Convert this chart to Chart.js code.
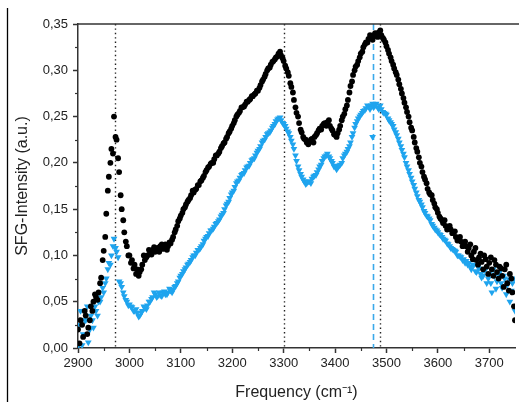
<!DOCTYPE html>
<html>
<head>
<meta charset="utf-8">
<title>SFG spectrum</title>
<script src="https://cdn.jsdelivr.net/npm/chart.js@4.4.0/dist/chart.umd.min.js"></script>
<style>
  html, body { margin: 0; padding: 0; background: #fff; }
  #wrap { width: 519px; height: 402px; }
</style>
</head>
<body>
<div id="wrap"><canvas id="sfgChart" width="519" height="402"></canvas></div>
<script>
// ================= DATA =================
const frequencies = [
  2900, 2905, 2910, 2915, 2920, 2925, 2930, 2935, 2940, 2945,
  2950, 2955, 2960, 2965, 2970, 2975, 2980, 2985, 2990, 2995,
  3000, 3005, 3010, 3015, 3020, 3025, 3030, 3035, 3040, 3045,
  3050, 3055, 3060, 3065, 3070, 3075, 3080, 3085, 3090, 3095,
  3100, 3105, 3110, 3115, 3120, 3125, 3130, 3135, 3140, 3145,
  3150, 3155, 3160, 3165, 3170, 3175, 3180, 3185, 3190, 3195,
  3200, 3205, 3210, 3215, 3220, 3225, 3230, 3235, 3240, 3245,
  3250, 3255, 3260, 3265, 3270, 3275, 3280, 3285, 3290, 3295,
  3300, 3305, 3310, 3315, 3320, 3325, 3330, 3335, 3340, 3345,
  3350, 3355, 3360, 3365, 3370, 3375, 3380, 3385, 3390, 3395,
  3400, 3405, 3410, 3415, 3420, 3425, 3430, 3435, 3440, 3445,
  3450, 3455, 3460, 3465, 3470, 3475, 3480, 3485, 3490, 3495,
  3500, 3505, 3510, 3515, 3520, 3525, 3530, 3535, 3540, 3545,
  3550, 3555, 3560, 3565, 3570, 3575, 3580, 3585, 3590, 3595,
  3600, 3605, 3610, 3615, 3620, 3625, 3630, 3635, 3640, 3645,
  3650, 3655, 3660, 3665, 3670, 3675, 3680, 3685, 3690, 3695,
  3700, 3705, 3710, 3715, 3720, 3725, 3730, 3735, 3740, 3745,
  3750,
];

// second, interleaved sweep
const frequenciesB = [
  2903, 2908, 2913, 2918, 2923, 2928, 2933, 2938, 2943, 2948,
  2953, 2958, 2963, 2968, 2973, 2978, 2983, 2988, 2993, 2998,
  3003, 3008, 3013, 3018, 3023, 3028, 3033, 3038, 3043, 3048,
  3053, 3058, 3063, 3068, 3073, 3078, 3083, 3088, 3093, 3098,
  3103, 3108, 3113, 3118, 3123, 3128, 3133, 3138, 3143, 3148,
  3153, 3158, 3163, 3168, 3173, 3178, 3183, 3188, 3193, 3198,
  3203, 3208, 3213, 3218, 3223, 3228, 3233, 3238, 3243, 3248,
  3253, 3258, 3263, 3268, 3273, 3278, 3283, 3288, 3293, 3298,
  3303, 3308, 3313, 3318, 3323, 3328, 3333, 3338, 3343, 3348,
  3353, 3358, 3363, 3368, 3373, 3378, 3383, 3388, 3393, 3398,
  3403, 3408, 3413, 3418, 3423, 3428, 3433, 3438, 3443, 3448,
  3453, 3458, 3463, 3468, 3473, 3478, 3483, 3488, 3493, 3498,
  3503, 3508, 3513, 3518, 3523, 3528, 3533, 3538, 3543, 3548,
  3553, 3558, 3563, 3568, 3573, 3578, 3583, 3588, 3593, 3598,
  3603, 3608, 3613, 3618, 3623, 3628, 3633, 3638, 3643, 3648,
  3653, 3658, 3663, 3668, 3673, 3678, 3683, 3688, 3693, 3698,
  3703, 3708, 3713, 3718, 3723, 3728, 3733, 3738, 3743, 3748,
];

// black circles
const blackValues = [
  0.020, 0.030, 0.012, 0.035, 0.022, 0.045, 0.050, 0.055, 0.060, 0.076,
  0.105, 0.145, 0.185, 0.215, 0.250, 0.225, 0.190, 0.150, 0.125, 0.110,
  0.100, 0.095, 0.090, 0.085, 0.082, 0.090, 0.095, 0.100, 0.104, 0.106,
  0.104, 0.108, 0.110, 0.107, 0.112, 0.110, 0.113, 0.120, 0.128, 0.137,
  0.143, 0.150, 0.155, 0.160, 0.165, 0.168, 0.172, 0.176, 0.181, 0.186,
  0.192, 0.196, 0.200, 0.204, 0.208, 0.212, 0.218, 0.222, 0.228, 0.234,
  0.240, 0.246, 0.252, 0.256, 0.260, 0.263, 0.266, 0.269, 0.272, 0.275,
  0.278, 0.284, 0.290, 0.296, 0.302, 0.306, 0.310, 0.314, 0.318, 0.316,
  0.310, 0.302, 0.294, 0.282, 0.268, 0.254, 0.243, 0.233, 0.226, 0.222,
  0.223, 0.226, 0.228, 0.232, 0.237, 0.240, 0.243, 0.244, 0.240, 0.235,
  0.230, 0.232, 0.240, 0.250, 0.258, 0.268, 0.283, 0.295, 0.304, 0.310,
  0.318, 0.325, 0.330, 0.334, 0.336, 0.338, 0.337, 0.341, 0.338, 0.333,
  0.326, 0.318, 0.310, 0.302, 0.295, 0.285, 0.275, 0.265, 0.255, 0.244,
  0.235, 0.222, 0.212, 0.200, 0.190, 0.182, 0.172, 0.166, 0.160, 0.152,
  0.146, 0.140, 0.135, 0.132, 0.130, 0.128, 0.125, 0.120, 0.118, 0.115,
  0.112, 0.110, 0.108, 0.100, 0.104, 0.095, 0.098, 0.093, 0.100, 0.088,
  0.092, 0.085, 0.095, 0.082, 0.088, 0.078, 0.085, 0.070, 0.080, 0.060,
  0.030,
];

const blackValuesB = [
  0.005, 0.025, 0.040, 0.015, 0.030, 0.040, 0.058, 0.052, 0.070, 0.095,
  0.120, 0.170, 0.200, 0.210, 0.228, 0.205, 0.165, 0.138, 0.115, 0.100,
  0.092, 0.086, 0.080, 0.078, 0.085, 0.100, 0.098, 0.106, 0.101, 0.109,
  0.106, 0.104, 0.112, 0.109, 0.106, 0.114, 0.117, 0.125, 0.132, 0.140,
  0.146, 0.152, 0.158, 0.162, 0.170, 0.171, 0.176, 0.180, 0.184, 0.190,
  0.195, 0.199, 0.200, 0.208, 0.210, 0.216, 0.221, 0.226, 0.232, 0.237,
  0.243, 0.250, 0.254, 0.260, 0.261, 0.266, 0.268, 0.272, 0.274, 0.278,
  0.281, 0.288, 0.293, 0.300, 0.303, 0.309, 0.312, 0.315, 0.320, 0.313,
  0.305, 0.298, 0.286, 0.276, 0.260, 0.250, 0.236, 0.228, 0.225, 0.220,
  0.225, 0.222, 0.230, 0.235, 0.236, 0.242, 0.240, 0.246, 0.237, 0.231,
  0.228, 0.236, 0.246, 0.253, 0.262, 0.276, 0.288, 0.300, 0.306, 0.314,
  0.320, 0.328, 0.330, 0.338, 0.333, 0.340, 0.336, 0.343, 0.335, 0.330,
  0.322, 0.314, 0.306, 0.298, 0.290, 0.280, 0.270, 0.260, 0.250, 0.238,
  0.228, 0.216, 0.206, 0.196, 0.185, 0.178, 0.168, 0.165, 0.156, 0.150,
  0.142, 0.138, 0.138, 0.128, 0.132, 0.124, 0.126, 0.116, 0.120, 0.110,
  0.115, 0.104, 0.112, 0.096, 0.108, 0.090, 0.102, 0.085, 0.096, 0.080,
  0.098, 0.078, 0.090, 0.075, 0.086, 0.066, 0.090, 0.062, 0.075, 0.045,
];

// blue down-triangles
const blueValues = [
  0.002, 0.040, 0.015, 0.030, 0.006, 0.035, 0.022, 0.040, 0.050, 0.055,
  0.060, 0.075, 0.092, 0.100, 0.118, 0.104, 0.072, 0.066, 0.056, 0.050,
  0.047, 0.044, 0.040, 0.038, 0.035, 0.040, 0.043, 0.046, 0.050, 0.055,
  0.058, 0.056, 0.057, 0.060, 0.058, 0.060, 0.062, 0.063, 0.067, 0.072,
  0.078, 0.083, 0.087, 0.091, 0.095, 0.100, 0.103, 0.106, 0.110, 0.116,
  0.120, 0.124, 0.127, 0.131, 0.135, 0.139, 0.144, 0.150, 0.156, 0.162,
  0.168, 0.174, 0.180, 0.184, 0.188, 0.192, 0.196, 0.200, 0.204, 0.208,
  0.213, 0.218, 0.224, 0.228, 0.232, 0.235, 0.240, 0.245, 0.248, 0.246,
  0.242, 0.237, 0.232, 0.224, 0.215, 0.202, 0.192, 0.185, 0.180, 0.178,
  0.180, 0.183, 0.186, 0.190, 0.196, 0.202, 0.207, 0.210, 0.205, 0.200,
  0.197, 0.195, 0.198, 0.205, 0.210, 0.215, 0.222, 0.232, 0.242, 0.248,
  0.252, 0.256, 0.259, 0.261, 0.262, 0.260, 0.264, 0.258, 0.258, 0.254,
  0.252, 0.246, 0.242, 0.236, 0.230, 0.222, 0.214, 0.206, 0.196, 0.188,
  0.180, 0.172, 0.164, 0.158, 0.152, 0.146, 0.142, 0.138, 0.132, 0.128,
  0.125, 0.122, 0.118, 0.116, 0.112, 0.108, 0.106, 0.104, 0.100, 0.098,
  0.096, 0.094, 0.092, 0.085, 0.090, 0.082, 0.086, 0.076, 0.084, 0.070,
  0.080, 0.060, 0.078, 0.072, 0.082, 0.065, 0.075, 0.068, 0.050, 0.070,
  0.040,
];

const blueValuesB = [
  0.025, 0.003, 0.030, 0.045, 0.020, 0.030, 0.045, 0.035, 0.050, 0.065,
  0.070, 0.085, 0.090, 0.110, 0.108, 0.098, 0.070, 0.060, 0.052, 0.046,
  0.045, 0.040, 0.042, 0.034, 0.038, 0.045, 0.042, 0.050, 0.053, 0.060,
  0.055, 0.060, 0.056, 0.061, 0.058, 0.064, 0.060, 0.066, 0.070, 0.076,
  0.080, 0.085, 0.090, 0.093, 0.098, 0.100, 0.106, 0.108, 0.112, 0.118,
  0.121, 0.127, 0.129, 0.134, 0.137, 0.142, 0.146, 0.154, 0.158, 0.166,
  0.170, 0.178, 0.181, 0.187, 0.189, 0.195, 0.197, 0.203, 0.205, 0.211,
  0.215, 0.222, 0.225, 0.231, 0.233, 0.238, 0.242, 0.247, 0.249, 0.243,
  0.240, 0.234, 0.228, 0.220, 0.208, 0.196, 0.188, 0.182, 0.177, 0.180,
  0.178, 0.185, 0.187, 0.193, 0.198, 0.205, 0.208, 0.207, 0.202, 0.196,
  0.193, 0.197, 0.200, 0.208, 0.212, 0.218, 0.228, 0.238, 0.245, 0.250,
  0.254, 0.257, 0.262, 0.258, 0.264, 0.262, 0.260, 0.262, 0.255, 0.253,
  0.248, 0.244, 0.240, 0.233, 0.226, 0.218, 0.210, 0.200, 0.192, 0.184,
  0.176, 0.168, 0.160, 0.155, 0.148, 0.143, 0.140, 0.134, 0.130, 0.127,
  0.123, 0.120, 0.117, 0.113, 0.110, 0.107, 0.105, 0.100, 0.099, 0.095,
  0.092, 0.090, 0.088, 0.090, 0.083, 0.088, 0.080, 0.078, 0.085, 0.075,
  0.070, 0.085, 0.064, 0.080, 0.070, 0.078, 0.058, 0.074, 0.062, 0.075,
];

// single stray points
const blueExtraFreq = [3473];
const blueExtraValues = [0.228];

// reference lines (cm-1)
const dottedLines = [2972, 3300, 3487];
const dashedLines = [3473];

// axis ticks
const xTickLabels = [2900, 3000, 3100, 3200, 3300, 3400, 3500, 3600, 3700];
const xMinorTicks = [2950, 3050, 3150, 3250, 3350, 3450, 3550, 3650];
const yMinorTicks = [0.025, 0.075, 0.125, 0.175, 0.225, 0.275, 0.325];

// ================= HELPERS =================
function toPoints(xs, ys) {
  return xs.map((f, i) => ({ x: f, y: ys[i] }));
}

const AXIS_COLOR = "#333";
const BLUE = "#1fa4ee";

// frame, minor ticks and reference lines
const decorPlugin = {
  id: "decor",
  beforeDatasetsDraw(chart) {
    const { ctx, chartArea: a, scales } = chart;
    ctx.save();
    ctx.lineWidth = 1.4;
    ctx.strokeStyle = "#222";
    ctx.setLineDash([1.4, 3]);
    dottedLines.forEach((v) => {
      const px = Math.round(scales.x.getPixelForValue(v)) + 0.5;
      ctx.beginPath();
      ctx.moveTo(px, a.top);
      ctx.lineTo(px, a.bottom);
      ctx.stroke();
    });
    ctx.strokeStyle = "#3aa9ea";
    ctx.lineWidth = 1.6;
    ctx.setLineDash([6, 4]);
    dashedLines.forEach((v) => {
      const px = Math.round(scales.x.getPixelForValue(v)) + 0.5;
      ctx.beginPath();
      ctx.moveTo(px, a.top);
      ctx.lineTo(px, a.bottom);
      ctx.stroke();
    });
    ctx.restore();
  },
  afterDraw(chart) {
    const { ctx, chartArea: a, scales } = chart;
    ctx.save();
    ctx.strokeStyle = AXIS_COLOR;
    ctx.lineWidth = 1.5;
    // top frame line
    ctx.beginPath();
    ctx.moveTo(a.left, a.top);
    ctx.lineTo(chart.width, a.top);
    ctx.stroke();
    // minor ticks
    ctx.lineWidth = 1.2;
    xMinorTicks.forEach((v) => {
      const px = Math.round(scales.x.getPixelForValue(v)) + 0.5;
      ctx.beginPath();
      ctx.moveTo(px, a.bottom);
      ctx.lineTo(px, a.bottom + 3);
      ctx.stroke();
    });
    yMinorTicks.forEach((v) => {
      const py = Math.round(scales.y.getPixelForValue(v)) + 0.5;
      ctx.beginPath();
      ctx.moveTo(a.left, py);
      ctx.lineTo(a.left - 3, py);
      ctx.stroke();
    });
    // outer left line of the figure
    ctx.strokeStyle = "#000";
    ctx.lineWidth = 1.3;
    ctx.beginPath();
    ctx.moveTo(7.5, 8);
    ctx.lineTo(7.5, chart.height);
    ctx.stroke();
    ctx.restore();
  },
};

// ================= CHART =================
const tickFont = { family: "'Liberation Sans', Arial, sans-serif", size: 13 };
const titleFont = { family: "'Liberation Sans', Arial, sans-serif", size: 16 };

new Chart(document.getElementById("sfgChart"), {
  type: "scatter",
  data: {
    datasets: [
      {
        label: "black",
        data: toPoints(frequencies, blackValues).concat(
          toPoints(frequenciesB, blackValuesB)
        ),
        pointStyle: "circle",
        pointRadius: 2.9,
        backgroundColor: "#000",
        borderWidth: 0,
      },
      {
        label: "blue",
        data: toPoints(frequencies, blueValues)
          .concat(toPoints(frequenciesB, blueValuesB))
          .concat(toPoints(blueExtraFreq, blueExtraValues)),
        pointStyle: "triangle",
        rotation: 180,
        pointRadius: 3.9,
        backgroundColor: BLUE,
        borderWidth: 0,
      },
    ],
  },
  options: {
    responsive: false,
    animation: false,
    layout: { padding: { top: 24, right: 0, left: 0, bottom: 0 } },
    plugins: {
      legend: { display: false },
      tooltip: { enabled: false },
    },
    scales: {
      x: {
        type: "linear",
        min: 2900,
        max: 3750,
        afterFit: (scale) => {
          scale.height = 54;
        },
        afterBuildTicks: (scale) => {
          scale.ticks = xTickLabels.map((v) => ({ value: v }));
        },
        ticks: {
          font: tickFont,
          color: "#222",
          padding: 3,
          maxRotation: 0,
          callback: (v) => String(v),
        },
        grid: {
          drawOnChartArea: false,
          tickLength: 5,
          tickColor: AXIS_COLOR,
          tickWidth: 1.5,
        },
        border: { display: true, color: AXIS_COLOR, width: 1.5 },
        title: {
          display: true,
          text: "Frequency (cm\u207B\u00B9)",
          font: titleFont,
          color: "#222",
          padding: { top: 0, bottom: 0 },
        },
      },
      y: {
        min: 0,
        max: 0.35,
        afterFit: (scale) => {
          scale.width = 78;
        },
        ticks: {
          stepSize: 0.05,
          font: tickFont,
          color: "#222",
          padding: 5,
          callback: (v) => v.toFixed(2).replace(".", ","),
        },
        grid: {
          drawOnChartArea: false,
          tickLength: 5,
          tickColor: AXIS_COLOR,
          tickWidth: 1.5,
        },
        border: { display: true, color: AXIS_COLOR, width: 1.5 },
        title: {
          display: true,
          text: "SFG-Intensity (a.u.)",
          font: titleFont,
          color: "#222",
          padding: { top: 13, bottom: 0 },
        },
      },
    },
  },
  plugins: [decorPlugin],
});
</script>
</body>
</html>
